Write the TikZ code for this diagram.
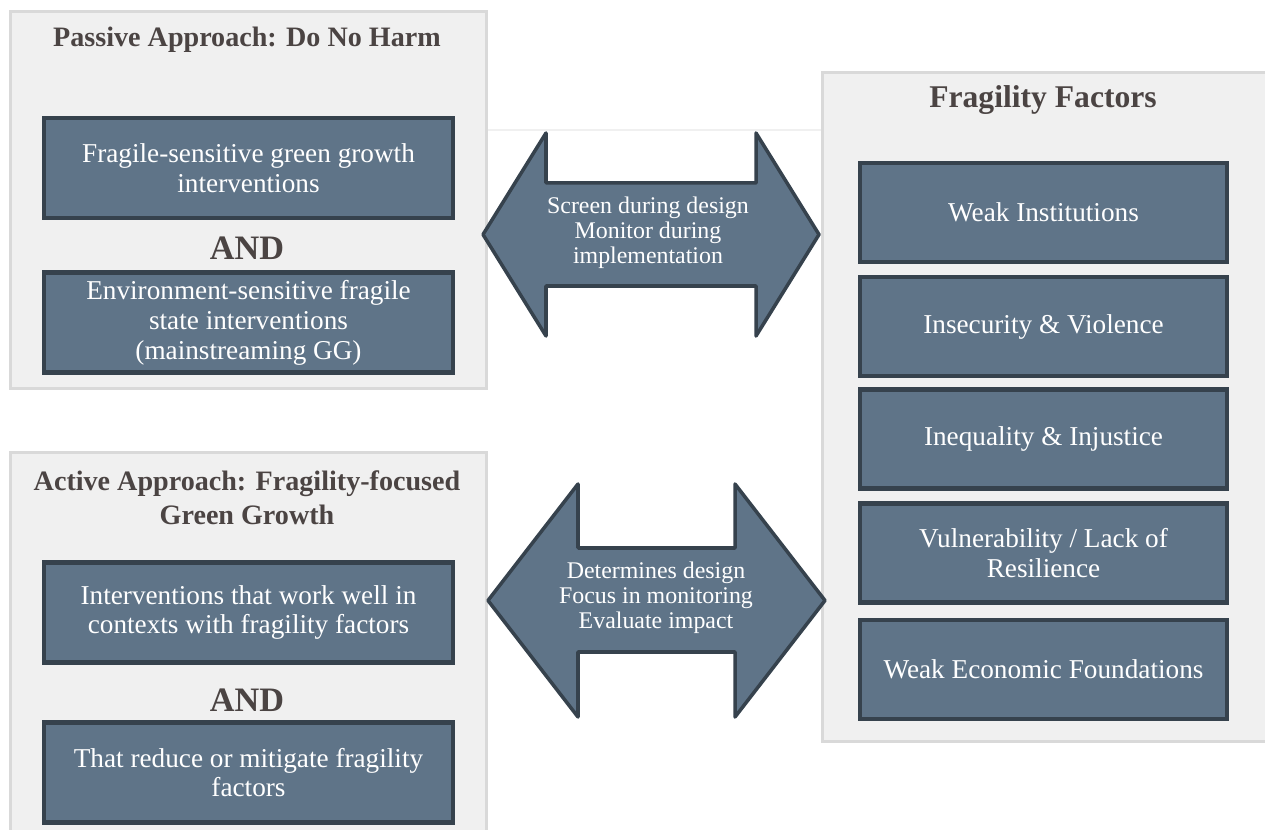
\documentclass[tikz,border=0pt]{standalone}
\usepackage{fontspec}
\setmainfont{Liberation Serif}
\usepackage{xcolor}
\definecolor{panelgray}{HTML}{F0F0F0}
\definecolor{panelrule}{HTML}{D9D9D9}
\definecolor{slateblue}{HTML}{5F7488}
\definecolor{slatedark}{HTML}{36424D}
\definecolor{headink}{HTML}{4B4443}
\tikzset{
  panel/.style={rectangle, draw=panelrule, fill=panelgray, line width=1.7pt, inner sep=0pt},
  factor/.style={rectangle, draw=slatedark, fill=slateblue, line width=2.4pt, text=white,
                 align=center, inner sep=0pt, font=\fontsize{15.5}{17}\selectfont},
  leftbox/.style={factor, minimum width=8.18cm, minimum height=2cm},
  rightbox/.style={factor, minimum width=7.34cm, minimum height=1.98cm},
  head/.style={font=\fontsize{16}{19.3}\selectfont\bfseries, text=headink, align=center},
  bighead/.style={head, font=\fontsize{18}{21}\selectfont\bfseries},
  andlbl/.style={font=\fontsize{19.5}{22}\selectfont\bfseries, text=headink},
  bigarrow/.style={draw=slatedark, fill=slateblue, line width=2pt, line join=round},
  arrowtext/.style={font=\fontsize{13.6}{14.2}\selectfont, text=white, align=center},
}

\begin{document}
\begin{tikzpicture}[x=0.02cm, y=-0.02cm]
\useasboundingbox (0,0) rectangle (1265,830);
\clip (0,0) rectangle (1265,830);
\fill[white] (0,0) rectangle (1265,830);

% panels
\node[panel, minimum width=9.54cm, minimum height=7.56cm] (pas)  at (248.5,200) {};
\node[panel, minimum width=9.54cm, minimum height=8.36cm] (act)  at (248.5,661) {};
\node[panel, minimum width=9cm,    minimum height=13.4cm] (frag) at (1047,407)  {};

\coordinate (seam) at (0,130);
\draw[panelgray, line width=0.8pt] (pas.east |- seam) -- (frag.west |- seam);

% passive approach
\node[head] (pashead) at (247,40) {Passive Approach: Do No Harm};
\node[leftbox] (fgg) at (248.5,168)   {Fragile-sensitive green growth\\interventions};
\node[andlbl]  (and1) at (247,248)    {AND};
\node[leftbox] (esf) at (248.5,322.5) {Environment-sensitive fragile\\state interventions\\(mainstreaming GG)};

% active approach
\node[head] (acthead) at (247,498) {Active Approach: Fragility-focused\\Green Growth};
\node[leftbox] (iww) at (248.5,612.5) {Interventions that work well in\\contexts with fragility factors};
\node[andlbl]  (and2) at (247,700)    {AND};
\node[leftbox] (rmf) at (248.5,772.5) {That reduce or mitigate fragility\\factors};

% fragility factors
\node[bighead] (fraghead) at (1043,100) {Fragility Factors};
\node[rightbox] (wi) at (1043.5,212.5) {Weak Institutions};
\node[rightbox] (iv) at (1043.5,326.5) {Insecurity \& Violence};
\node[rightbox] (ii) at (1043.5,439)   {Inequality \& Injustice};
\node[rightbox] (vl) at (1043.5,553)   {Vulnerability / Lack of\\Resilience};
\node[rightbox] (we) at (1043.5,669.5) {Weak Economic Foundations};

% double arrows
\draw[bigarrow] (483,234.5) -- (546,133) -- (546,183) -- (756,183) -- (756,133) -- (819,234.5)
  -- (756,336) -- (756,286) -- (546,286) -- (546,336) -- cycle;
\node[arrowtext] (screen) at (648,233) {Screen during design\\Monitor during\\implementation};

\draw[bigarrow] (488,600.5) -- (578,484) -- (578,548) -- (735,548) -- (735,484) -- (825,600.5)
  -- (735,717) -- (735,652) -- (578,652) -- (578,717) -- cycle;
\node[arrowtext] (focus) at (656,598) {Determines design\\Focus in monitoring\\Evaluate impact};
\end{tikzpicture}
\end{document}
